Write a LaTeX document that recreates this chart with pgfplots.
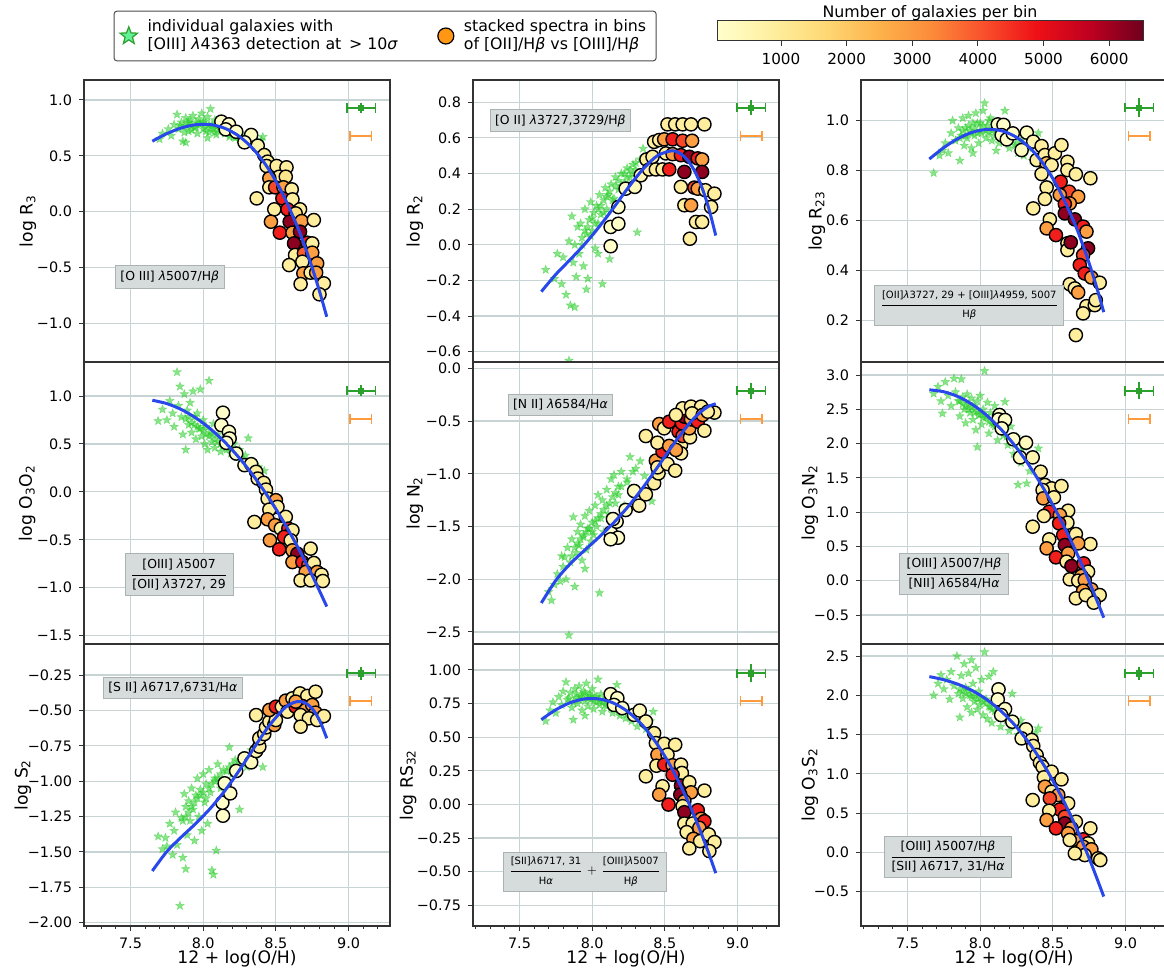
\documentclass[border=0pt]{standalone}
\usepackage{fontspec}
\setmainfont{DejaVu Sans}
\usepackage{pgfplots}
\pgfplotsset{compat=1.18}

\definecolor{gridc}{RGB}{200,212,212}
\definecolor{fitblue}{RGB}{40,72,235}
\definecolor{stargreen}{RGB}{40,205,40}
\definecolor{errgreen}{RGB}{44,160,44}
\definecolor{errorange}{RGB}{255,155,60}
\definecolor{boxfill}{RGB}{214,219,219}
\definecolor{boxdraw}{RGB}{170,178,178}
\definecolor{legstar}{RGB}{100,240,150}
\definecolor{legorange}{RGB}{255,150,20}

\pgfdeclareplotmark{fstar}{%
  \pgfpathmoveto{\pgfpointpolar{90}{\pgfplotmarksize}}%
  \pgfpathlineto{\pgfpointpolar{126}{0.42\pgfplotmarksize}}%
  \pgfpathlineto{\pgfpointpolar{162}{\pgfplotmarksize}}%
  \pgfpathlineto{\pgfpointpolar{198}{0.42\pgfplotmarksize}}%
  \pgfpathlineto{\pgfpointpolar{234}{\pgfplotmarksize}}%
  \pgfpathlineto{\pgfpointpolar{270}{0.42\pgfplotmarksize}}%
  \pgfpathlineto{\pgfpointpolar{306}{\pgfplotmarksize}}%
  \pgfpathlineto{\pgfpointpolar{342}{0.42\pgfplotmarksize}}%
  \pgfpathlineto{\pgfpointpolar{18}{\pgfplotmarksize}}%
  \pgfpathlineto{\pgfpointpolar{54}{0.42\pgfplotmarksize}}%
  \pgfpathclose
  \pgfusepathqfillstroke
}

\tikzset{anno/.style={fill=boxfill, draw=boxdraw, line width=0.5pt, inner sep=2.5pt, font=\fontsize{6.2}{7}\selectfont}}

\pgfplotsset{
  colormap={ylorrd}{rgb255=(255,255,204) rgb255=(254,240,160) rgb255=(254,217,118) rgb255=(253,180,76) rgb255=(252,140,58) rgb255=(249,80,44) rgb255=(238,16,22) rgb255=(190,0,32) rgb255=(110,0,30)},
  panel/.style={scale only axis, width=153pt, height=141pt, anchor=north west,
    xmin=7.18, xmax=9.285, xtick={7.5,8,8.5,9},
    minor xtick={7.2,7.3,7.4,7.6,7.7,7.8,7.9,8.1,8.2,8.3,8.4,8.6,8.7,8.8,8.9,9.1,9.2},
    grid=major, major grid style={gridc, line width=0.6pt},
    axis line style={black!80, line width=0.6pt},
    tick align=outside, xtick pos=bottom, ytick pos=left,
    major tick length=2.5pt, minor tick length=1.5pt,
    tick style={black!80, line width=0.5pt},
    tick label style={font=\fontsize{7.2}{8}\selectfont},
    label style={font=\fontsize{8.6}{10}\selectfont},
    clip marker paths=true,
    colormap name=ylorrd, point meta min=25, point meta max=6515},
  toprow/.style={xticklabels={}, xtick style={draw=none}, minor xtick={}},
  bottomrow/.style={xticklabels={7.5,8.0,8.5,9.0}, xlabel={12 + log(O/H)},
    xlabel style={at={(axis description cs:0.5,-0.117)}, anchor=center}},
  ylab/.style={ylabel style={at={(axis description cs:#1,0.5)}, anchor=center}},
  stars/.style={only marks, stargreen, mark=fstar, mark size=2.3pt, mark options={draw=stargreen, fill=stargreen, fill opacity=0.55, draw opacity=0.45, line width=0.2pt}},
  bins/.style={scatter, only marks, mark=*, mark size=3.3pt, scatter src=explicit,
    scatter/use mapped color={draw=black, fill=mapped color}, mark options={line width=0.7pt}},
  fit/.style={fitblue, line width=1.5pt, smooth, no marks},
  errgx/.style={only marks, errgreen, mark=square*, mark size=1.3pt,
    error bars/x dir=both, error bars/x explicit, error bars/error mark=|,
    error bars/error bar style={line width=1pt, errgreen},
    error bars/error mark options={errgreen, mark size=2.4pt, line width=0.8pt}},
  errgy/.style={only marks, errgreen, mark=square*, mark size=1.3pt,
    error bars/y dir=both, error bars/y explicit, error bars/error mark=-,
    error bars/error bar style={line width=0.8pt, errgreen},
    error bars/error mark options={errgreen, mark size=1.8pt, line width=0.8pt}},
  erro/.style={only marks, errorange, mark=*, mark size=0.3pt,
    error bars/x dir=both, error bars/x explicit, error bars/error mark=|,
    error bars/error bar style={line width=1pt, errorange},
    error bars/error mark options={errorange, mark size=2.4pt, line width=0.8pt}},
}

\begin{document}
\begin{tikzpicture}

% ---------------- colorbar ----------------
\begin{axis}[at={(358.5pt,-10.35pt)}, anchor=north west, scale only axis, width=213pt, height=10pt,
  xmin=25, xmax=6515, ymin=0, ymax=1, ytick=\empty,
  xtick={1000,2000,3000,4000,5000,6000}, xticklabels={1000,2000,3000,4000,5000,6000},
  xtick pos=bottom, tick align=outside, major tick length=2.5pt,
  axis line style={black!80, line width=0.5pt}, tick style={black!80, line width=0.5pt},
  colormap name=ylorrd, point meta min=25, point meta max=6515,
  tick label style={font=\fontsize{7.6}{8}\selectfont},
  title={Number of galaxies per bin},
  every axis title/.style={at={(0.5,1.17)}, anchor=base, font=\fontsize{7.9}{9}\selectfont},
  axis on top]
\addplot[surf, shader=interp, point meta=x, mesh/rows=2] coordinates {(25,0) (6515,0) (25,1) (6515,1)};
\end{axis}

% ---------------- (1,1) R3 ----------------
\begin{axis}[panel, toprow, at={(42pt,-40pt)}, ymin=-1.346, ymax=1.179,
  ytick={-1,-0.5,0,0.5,1}, yticklabels={−1.0,−0.5,0.0,0.5,1.0},
  ylabel={log R\textsubscript{3}}, ylab=-0.183,
  legend columns=2,
  legend style={at={(0.984,1.156)}, anchor=center, draw=black!70, line width=0.5pt, rounded corners=1.5pt,
    font=\fontsize{7.9}{9.4}\selectfont, cells={align=left, anchor=west},
    /tikz/every odd column/.append style={column sep=3pt},
    /tikz/every even column/.append style={column sep=18pt}}]
\addlegendimage{only marks, mark=fstar, mark size=4.6pt, mark options={draw=errgreen, fill=legstar, line width=0.6pt}}
\addlegendentry{individual galaxies with\\{}[OIII] \textit{λ}4363 detection at\ \,> 10\textit{σ}}
\addlegendimage{only marks, mark=*, mark size=4pt, mark options={draw=black, fill=legorange, line width=0.6pt}}
\addlegendentry{stacked spectra in bins\\of [OII]/H\textit{β} vs [OIII]/H\textit{β}}
\addplot[stars, forget plot] coordinates {
(7.70,0.65) (7.72,0.70) (7.76,0.74) (7.78,0.68) (7.80,0.78) (7.82,0.87) (7.83,0.74) (7.85,0.80) (7.86,0.63) (7.87,0.76)
(7.88,0.84) (7.89,0.79) (7.90,0.72) (7.91,0.82) (7.92,0.77) (7.93,0.86) (7.94,0.75) (7.95,0.80) (7.96,0.70) (7.97,0.83)
(7.98,0.78) (7.99,0.88) (8.00,0.74) (8.01,0.81) (8.02,0.76) (8.03,0.85) (8.04,0.71) (8.05,0.92) (8.06,0.78) (8.07,0.74)
(8.08,0.82) (8.09,0.69) (8.10,0.77) (8.12,0.73) (8.13,0.80) (8.15,0.70) (8.16,0.75) (8.18,0.67) (8.20,0.72) (8.22,0.66)
(8.24,0.70) (8.26,0.64) (8.28,0.68) (8.30,0.62) (8.33,0.66) (8.36,0.60) (8.40,0.64) (8.41,0.67) (7.88,0.62) (8.03,0.66)
(7.84,0.77) (7.87,0.71) (7.90,0.80) (7.92,0.73) (7.95,0.76) (7.97,0.79) (8.00,0.80) (8.02,0.72) (8.04,0.78) (8.06,0.75)
(8.08,0.71) (8.11,0.74) (8.14,0.76) (8.17,0.71) (8.19,0.69) (8.21,0.67) (8.23,0.68) (8.25,0.65) (8.27,0.66) (8.29,0.64)};
\addplot[bins, forget plot] table[meta=c] {
x y c
8.125 0.806 100
8.177 0.782 100
8.155 0.737 100
8.227 0.716 100
8.330 0.687 300
8.284 0.621 200
8.375 0.591 600
8.420 0.507 900
8.443 0.448 900
8.436 0.409 900
8.505 0.409 900
8.573 0.397 900
8.523 0.313 900
8.568 0.313 1200
8.455 0.299 2900
8.455 0.218 900
8.495 0.218 4200
8.552 0.218 2900
8.609 0.200 900
8.368 0.119 900
8.545 0.119 4700
8.614 0.110 900
8.489 0.021 900
8.580 0.021 4700
8.666 0.021 900
8.636 -0.015 1500
8.466 -0.090 2900
8.595 -0.090 6200
8.677 -0.084 2900
8.761 -0.075 900
8.527 -0.188 4700
8.614 -0.188 2900
8.666 -0.179 6200
8.625 -0.284 6200
8.716 -0.278 4700
8.750 -0.284 900
8.632 -0.388 900
8.693 -0.373 3900
8.750 -0.367 2900
8.591 -0.478 900
8.682 -0.448 900
8.784 -0.463 2900
8.689 -0.552 2900
8.739 -0.546 900
8.777 -0.546 2900
8.670 -0.648 900
8.830 -0.642 900
8.800 -0.740 900
};
\addplot[fit, forget plot] coordinates {(7.65,0.631) (7.75,0.699) (7.85,0.750) (7.95,0.779) (8.05,0.780) (8.15,0.746) (8.25,0.673) (8.35,0.553) (8.45,0.381) (8.55,0.152) (8.65,-0.141) (8.70,-0.313) (8.75,-0.503) (8.80,-0.712) (8.85,-0.941)};
\addplot[errgx, forget plot] coordinates {(9.087,0.931) +- (0.099,0)};
\addplot[errgy, forget plot] coordinates {(9.087,0.931) +- (0,0.012)};
\addplot[erro, forget plot] coordinates {(9.085,0.678) +- (0.074,0)};
\node[anno] at (axis cs:7.77,-0.585) {[O III] \textit{λ}5007/H\textit{β}};
\end{axis}

% ---------------- (1,2) R2 ----------------
\begin{axis}[panel, toprow, at={(236.5pt,-40pt)}, ymin=-0.658, ymax=0.925,
  ytick={-0.6,-0.4,-0.2,0,0.2,0.4,0.6,0.8}, yticklabels={−0.6,−0.4,−0.2,0.0,0.2,0.4,0.6,0.8},
  ylabel={log R\textsubscript{2}}, ylab=-0.19]
\addplot[stars] coordinates {
(7.68,-0.14) (7.74,-0.19) (7.76,-0.05) (7.79,-0.22) (7.80,-0.07) (7.82,-0.28) (7.84,-0.65) (7.84,0.02) (7.85,-0.34) (7.86,0.16)
(7.87,-0.10) (7.88,-0.35) (7.88,0.00) (7.89,-0.18) (7.90,0.10) (7.91,-0.05) (7.92,0.12) (7.93,0.04) (7.94,-0.12) (7.95,0.20)
(7.96,0.06) (7.97,-0.19) (7.98,0.14) (7.99,0.24) (8.00,0.08) (8.01,0.18) (8.02,-0.02) (8.03,0.22) (8.04,0.12) (8.05,0.28)
(8.06,0.17) (8.07,-0.22) (8.08,0.25) (8.09,0.32) (8.10,0.20) (8.11,0.28) (8.12,-0.08) (8.13,0.34) (8.15,0.26) (8.16,0.38)
(8.18,0.31) (8.20,0.40) (8.22,0.35) (8.24,0.43) (8.26,0.38) (8.28,0.45) (8.30,0.42) (8.31,0.07) (8.33,0.48) (8.35,0.54)
(8.04,-0.05) (7.96,-0.25)
(7.93,0.00) (7.95,0.08) (7.97,0.10) (7.99,0.05) (8.00,0.15) (8.02,0.12) (8.04,0.20) (8.06,0.22) (8.08,0.18) (8.10,0.27)
(8.12,0.30) (8.14,0.25) (8.16,0.33) (8.18,0.36) (8.20,0.33) (8.22,0.40) (8.24,0.38) (8.26,0.42) (8.28,0.40) (8.30,0.46)};
\addplot[bins] table[meta=c] {
x y c
8.127 -0.008 100
8.127 0.100 100
8.180 0.118 100
8.180 0.212 100
8.230 0.315 100
8.293 0.325 300
8.334 0.390 500
8.373 0.479 900
8.392 0.423 900
8.438 0.423 900
8.484 0.423 900
8.530 0.423 4700
8.426 0.578 900
8.461 0.588 900
8.518 0.676 900
8.571 0.676 900
8.622 0.676 900
8.680 0.676 900
8.772 0.676 900
8.495 0.592 2900
8.553 0.592 4700
8.622 0.584 4200
8.687 0.584 2900
8.415 0.494 900
8.507 0.513 900
8.553 0.509 2900
8.610 0.503 4700
8.668 0.494 6200
8.726 0.485 4700
8.756 0.479 2900
8.634 0.409 6200
8.756 0.409 6200
8.610 0.325 900
8.703 0.321 4200
8.726 0.315 2900
8.779 0.306 900
8.841 0.287 900
8.634 0.222 900
8.680 0.222 2900
8.818 0.212 900
8.714 0.128 900
8.756 0.128 900
8.672 0.034 900
};
\addplot[fit] coordinates {(7.65,-0.263) (7.75,-0.166) (7.85,-0.082) (7.95,0.005) (8.05,0.103) (8.15,0.211) (8.25,0.323) (8.35,0.425) (8.45,0.501) (8.55,0.528) (8.60,0.515) (8.65,0.481) (8.70,0.421) (8.75,0.332) (8.80,0.210) (8.85,0.052)};
\addplot[errgx] coordinates {(9.094,0.770) +- (0.099,0)};
\addplot[errgy] coordinates {(9.094,0.770) +- (0,0.02)};
\addplot[erro] coordinates {(9.093,0.610) +- (0.074,0)};
\node[anno] at (axis cs:7.781,0.697) {[O II] \textit{λ}3727,3729/H\textit{β}};
\end{axis}

% ---------------- (1,3) R23 ----------------
\begin{axis}[panel, toprow, at={(430.5pt,-40pt)}, ymin=0.032, ymax=1.163,
  ytick={0.2,0.4,0.6,0.8,1.0}, yticklabels={0.2,0.4,0.6,0.8,1.0},
  ylabel={log R\textsubscript{23}}, ylab=-0.144]
\addplot[stars] coordinates {
(7.68,0.79) (7.72,0.86) (7.74,0.88) (7.76,0.91) (7.78,0.87) (7.80,0.95) (7.81,1.00) (7.83,0.92) (7.85,0.97) (7.86,0.84)
(7.87,0.94) (7.88,1.01) (7.89,0.90) (7.90,0.97) (7.91,0.93) (7.92,1.02) (7.93,0.96) (7.94,0.89) (7.95,0.99) (7.96,0.94)
(7.97,1.03) (7.98,0.95) (7.99,0.91) (8.00,0.99) (8.01,0.95) (8.02,1.04) (8.03,1.07) (8.04,0.93) (8.05,0.98) (8.06,0.95)
(8.07,1.01) (8.08,0.92) (8.09,0.97) (8.10,0.94) (8.12,0.99) (8.13,0.91) (8.15,0.96) (8.17,1.04) (8.18,0.93) (8.20,0.89)
(8.22,0.95) (8.24,0.90) (8.26,0.87) (8.28,0.92) (8.30,0.86) (8.33,0.89) (8.36,0.84) (8.40,0.95) (7.95,0.87) (8.11,0.88)
(7.86,0.93) (7.88,0.96) (7.90,0.94) (7.92,0.98) (7.94,0.95) (7.96,0.97) (7.98,0.99) (8.00,0.96) (8.02,0.98) (8.04,0.96)
(8.06,1.00) (8.08,0.96) (8.10,0.98) (8.12,0.95) (8.14,0.94) (8.16,0.92) (8.19,0.94) (8.21,0.92) (8.25,0.91) (8.29,0.89)};
\addplot[bins] table[meta=c] {
x y c
8.121 0.985 100
8.160 0.983 100
8.148 0.942 100
8.183 0.925 100
8.224 0.949 100
8.285 0.882 300
8.320 0.952 300
8.365 0.916 600
8.422 0.898 900
8.388 0.842 900
8.445 0.862 900
8.514 0.869 900
8.559 0.902 900
8.457 0.829 2300
8.491 0.822 900
8.600 0.835 900
8.600 0.802 900
8.658 0.785 900
8.758 0.769 900
8.422 0.786 900
8.457 0.732 900
8.445 0.686 900
8.365 0.648 900
8.553 0.755 4700
8.612 0.715 4200
8.548 0.702 2900
8.674 0.695 2900
8.616 0.668 2900
8.582 0.666 4700
8.582 0.628 6200
8.651 0.604 6200
8.479 0.604 900
8.457 0.568 2900
8.521 0.541 4700
8.708 0.575 4700
8.731 0.555 2900
8.600 0.508 900
8.600 0.481 900
8.623 0.512 6200
8.742 0.488 6200
8.708 0.461 4200
8.685 0.421 4700
8.719 0.387 4700
8.765 0.371 2900
8.822 0.350 900
8.616 0.344 900
8.651 0.327 900
8.674 0.311 2900
8.731 0.256 900
8.788 0.260 900
8.795 0.280 900
8.708 0.227 900
8.658 0.140 900
};
\addplot[fit] coordinates {(7.65,0.846) (7.75,0.892) (7.85,0.929) (7.95,0.954) (8.05,0.965) (8.15,0.959) (8.25,0.933) (8.35,0.886) (8.45,0.814) (8.55,0.715) (8.65,0.587) (8.70,0.511) (8.75,0.427) (8.80,0.334) (8.85,0.232)};
\addplot[errgx] coordinates {(9.094,1.052) +- (0.099,0)};
\addplot[errgy] coordinates {(9.094,1.052) +- (0,0.023)};
\addplot[erro] coordinates {(9.093,0.938) +- (0.074,0)};
\node[anno, font=\fontsize{5}{5.6}\selectfont] at (axis cs:7.925,0.259) {$\displaystyle\frac{\mbox{[OII]\textit{λ}3727, 29 + [OIII]\textit{λ}4959, 5007}}{\mbox{H\textit{β}}}$};
\end{axis}

% ---------------- (2,1) O3O2 ----------------
\begin{axis}[panel, toprow, at={(42pt,-181pt)}, ymin=-1.587, ymax=1.355,
  ytick={-1.5,-1,-0.5,0,0.5,1}, yticklabels={−1.5,−1.0,−0.5,0.0,0.5,1.0},
  ylabel={log O\textsubscript{3}O\textsubscript{2}}, ylab=-0.186]
\addplot[stars] coordinates {
(7.69,0.74) (7.72,0.86) (7.75,0.75) (7.77,0.95) (7.79,0.82) (7.80,0.68) (7.82,1.25) (7.83,0.90) (7.84,1.10) (7.85,0.78)
(7.86,0.60) (7.87,1.02) (7.88,0.44) (7.89,0.85) (7.90,0.70) (7.91,0.93) (7.92,0.62) (7.93,1.05) (7.94,0.78) (7.95,0.55)
(7.96,0.82) (7.97,0.66) (7.98,1.07) (7.99,0.58) (8.00,0.75) (8.01,0.50) (8.02,0.68) (8.03,0.44) (8.04,1.16) (8.05,0.62)
(8.06,0.52) (8.07,0.71) (8.08,0.46) (8.10,0.60) (8.12,0.42) (8.13,0.55) (8.15,0.48) (8.17,0.62) (8.19,0.40) (8.21,0.50)
(8.23,0.36) (8.25,0.44) (8.27,0.30) (8.29,0.38) (8.31,0.56) (8.33,0.28) (8.35,0.20) (8.38,0.26) (8.40,0.15) (8.42,0.22)
(7.88,0.76) (7.90,0.78) (7.92,0.72) (7.94,0.70) (7.96,0.68) (7.98,0.66) (8.00,0.64) (8.02,0.60) (8.04,0.58) (8.06,0.60)
(8.08,0.55) (8.10,0.52) (8.12,0.50) (8.14,0.48) (8.16,0.44) (8.18,0.46) (8.20,0.42) (8.24,0.38) (8.28,0.34) (8.32,0.30)};
\addplot[bins] table[meta=c] {
x y c
8.136 0.826 100
8.125 0.697 100
8.177 0.627 100
8.182 0.557 100
8.159 0.512 100
8.227 0.400 200
8.284 0.279 300
8.330 0.289 500
8.364 0.209 900
8.375 0.139 900
8.416 0.094 900
8.432 0.024 900
8.443 -0.070 900
8.500 -0.087 2900
8.511 -0.157 900
8.455 -0.185 900
8.568 -0.261 900
8.443 -0.286 2900
8.352 -0.314 900
8.495 -0.348 2900
8.534 -0.383 900
8.586 -0.383 4700
8.614 -0.401 900
8.459 -0.505 2900
8.557 -0.470 4700
8.602 -0.505 900
8.523 -0.599 4700
8.614 -0.610 2900
8.648 -0.645 6200
8.739 -0.592 900
8.614 -0.732 2900
8.682 -0.732 4700
8.723 -0.767 4200
8.761 -0.742 900
8.705 -0.836 2900
8.784 -0.836 2900
8.814 -0.864 900
8.670 -0.923 900
8.739 -0.923 900
8.823 -0.930 900
};
\addplot[fit] coordinates {(7.65,0.956) (7.75,0.921) (7.85,0.859) (7.95,0.771) (8.05,0.657) (8.15,0.517) (8.25,0.351) (8.35,0.159) (8.45,-0.060) (8.55,-0.304) (8.65,-0.575) (8.75,-0.872) (8.85,-1.196)};
\addplot[errgx] coordinates {(9.087,1.056) +- (0.099,0)};
\addplot[errgy] coordinates {(9.087,1.056) +- (0,0.02)};
\addplot[erro] coordinates {(9.085,0.760) +- (0.074,0)};
\node[anno] at (axis cs:7.834,-0.861) {$\displaystyle\frac{\mbox{[OIII] \textit{λ}5007}}{\mbox{[OII] \textit{λ}3727, 29}}$};
\end{axis}

% ---------------- (2,2) N2 ----------------
\begin{axis}[panel, toprow, at={(236.5pt,-181pt)}, ymin=-2.614, ymax=0.06,
  ytick={-2.5,-2,-1.5,-1,-0.5,0}, yticklabels={−2.5,−2.0,−1.5,−1.0,−0.5,0.0},
  ylabel={log N\textsubscript{2}}, ylab=-0.19]
\addplot[stars] coordinates {
(7.70,-2.12) (7.72,-2.20) (7.74,-2.05) (7.76,-1.95) (7.78,-2.02) (7.79,-1.78) (7.80,-1.88) (7.81,-1.79) (7.82,-2.00) (7.83,-1.70)
(7.84,-2.53) (7.85,-1.84) (7.86,-1.62) (7.87,-1.41) (7.88,-2.07) (7.89,-1.75) (7.90,-1.55) (7.91,-1.68) (7.92,-1.48) (7.93,-1.82)
(7.94,-1.60) (7.95,-1.40) (7.96,-1.72) (7.97,-1.52) (7.98,-1.35) (7.99,-1.64) (8.00,-1.46) (8.01,-1.58) (8.02,-1.30) (8.03,-1.50)
(8.04,-1.20) (8.05,-2.13) (8.06,-1.42) (8.07,-1.25) (8.08,-1.55) (8.10,-1.15) (8.11,-1.38) (8.13,-1.05) (8.15,-1.01) (8.16,-1.28)
(8.18,-1.12) (8.20,-0.98) (8.22,-1.30) (8.24,-1.08) (8.26,-0.84) (8.28,-1.18) (8.30,-0.95) (8.33,-0.88) (8.36,-1.02) (8.41,-1.26)
(7.95,-1.90) (8.12,-1.62)
(7.86,-1.78) (7.88,-1.70) (7.90,-1.66) (7.92,-1.62) (7.94,-1.58) (7.96,-1.55) (7.98,-1.52) (8.00,-1.55) (8.02,-1.45) (8.04,-1.42)
(8.06,-1.38) (8.08,-1.34) (8.10,-1.30) (8.12,-1.28) (8.14,-1.22) (8.16,-1.18) (8.18,-1.20) (8.20,-1.12) (8.24,-1.05) (8.28,-0.98)};
\addplot[bins] table[meta=c] {
x y c
8.127 -1.558 100
8.177 -1.606 100
8.127 -1.621 100
8.168 -1.454 100
8.143 -1.429 100
8.230 -1.343 100
8.288 -1.163 300
8.323 -1.302 600
8.369 -1.195 900
8.426 -1.090 900
8.456 -0.996 900
8.438 -0.875 2900
8.449 -0.939 900
8.518 -0.907 900
8.571 -0.970 900
8.484 -0.790 4700
8.449 -0.705 900
8.369 -0.642 900
8.530 -0.736 2900
8.611 -0.727 900
8.611 -0.806 900
8.576 -0.774 2900
8.461 -0.528 2900
8.495 -0.569 900
8.530 -0.506 4700
8.594 -0.600 4700
8.622 -0.642 4200
8.673 -0.654 900
8.668 -0.569 2900
8.617 -0.521 4700
8.634 -0.458 6200
8.680 -0.484 2900
8.726 -0.506 4700
8.772 -0.591 900
8.622 -0.379 900
8.680 -0.363 900
8.749 -0.363 900
8.687 -0.427 900
8.760 -0.442 2900
8.841 -0.420 900
8.795 -0.411 900
8.576 -0.442 900
};
\addplot[fit] coordinates {(7.65,-2.225) (7.75,-2.010) (7.85,-1.852) (7.95,-1.722) (8.05,-1.597) (8.15,-1.461) (8.25,-1.306) (8.35,-1.129) (8.45,-0.936) (8.55,-0.737) (8.65,-0.553) (8.70,-0.474) (8.75,-0.409) (8.80,-0.361) (8.85,-0.336)};
\addplot[errgx] coordinates {(9.094,-0.212) +- (0.099,0)};
\addplot[errgy] coordinates {(9.094,-0.212) +- (0,0.04)};
\addplot[erro] coordinates {(9.093,-0.480) +- (0.074,0)};
\node[anno] at (axis cs:7.781,-0.348) {[N II] \textit{λ}6584/H\textit{α}};
\end{axis}

% ---------------- (2,3) O3N2 ----------------
\begin{axis}[panel, toprow, at={(430.5pt,-181pt)}, ymin=-0.923, ymax=3.19,
  ytick={-0.5,0,0.5,1,1.5,2,2.5,3}, yticklabels={−0.5,0.0,0.5,1.0,1.5,2.0,2.5,3.0},
  ylabel={log O\textsubscript{3}N\textsubscript{2}}, ylab=-0.167]
\addplot[stars] coordinates {
(7.68,2.73) (7.71,2.83) (7.73,2.62) (7.74,2.44) (7.76,2.90) (7.78,2.70) (7.80,2.55) (7.82,2.95) (7.83,2.75) (7.85,2.62)
(7.86,2.40) (7.87,2.94) (7.88,2.68) (7.89,2.50) (7.90,2.30) (7.91,2.72) (7.92,2.58) (7.93,2.45) (7.94,2.66) (7.95,2.35)
(7.96,2.55) (7.97,2.20) (7.98,2.62) (7.99,2.42) (8.00,2.70) (8.01,2.28) (8.02,2.50) (8.03,3.06) (8.04,2.38) (8.05,2.60)
(8.06,2.15) (8.07,2.45) (8.09,2.28) (8.10,2.55) (8.12,2.05) (8.14,2.35) (8.16,2.18) (8.17,2.61) (8.19,1.98) (8.21,2.25)
(8.23,1.85) (8.25,2.10) (8.26,1.40) (8.28,1.72) (8.30,1.95) (8.32,1.42) (8.34,1.60) (8.36,1.78) (8.40,1.93) (7.98,1.95)
(7.86,2.62) (7.88,2.58) (7.90,2.55) (7.92,2.50) (7.94,2.52) (7.96,2.45) (7.98,2.48) (8.00,2.42) (8.02,2.38) (8.04,2.40)
(8.06,2.32) (8.08,2.30) (8.10,2.25) (8.12,2.22) (8.14,2.18) (8.16,2.12) (8.18,2.10) (8.20,2.05) (8.24,1.98) (8.28,1.90)};
\addplot[bins] table[meta=c] {
x y c
8.132 2.417 100
8.126 2.353 100
8.171 2.344 100
8.148 2.222 100
8.228 2.062 100
8.315 2.013 300
8.274 1.799 300
8.361 1.799 600
8.416 1.590 900
8.445 1.396 900
8.491 1.347 900
8.559 1.381 900
8.429 1.323 900
8.434 1.201 2900
8.507 1.216 900
8.475 1.007 4700
8.605 1.021 900
8.548 0.958 2900
8.438 0.944 900
8.600 0.846 900
8.543 0.837 4700
8.361 0.788 900
8.571 0.666 4700
8.658 0.681 900
8.758 0.535 900
8.475 0.603 900
8.582 0.521 6200
8.674 0.545 2900
8.457 0.472 2900
8.521 0.341 4700
8.605 0.399 2900
8.594 0.278 900
8.628 0.214 6200
8.712 0.253 4700
8.742 0.132 900
8.696 0.069 2900
8.616 0.020 900
8.674 0.000 900
8.719 0.010 2900
8.765 -0.126 2900
8.708 -0.146 2900
8.658 -0.257 900
8.726 -0.209 900
8.822 -0.209 900
8.781 -0.320 900
};
\addplot[fit] coordinates {(7.65,2.784) (7.75,2.756) (7.85,2.683) (7.95,2.565) (8.05,2.402) (8.15,2.193) (8.25,1.939) (8.35,1.639) (8.45,1.294) (8.55,0.904) (8.65,0.468) (8.75,-0.013) (8.85,-0.539)};
\addplot[errgx] coordinates {(9.094,2.771) +- (0.099,0)};
\addplot[errgy] coordinates {(9.094,2.771) +- (0,0.07)};
\addplot[erro] coordinates {(9.093,2.358) +- (0.074,0)};
\node[anno] at (axis cs:7.82,0.103) {$\displaystyle\frac{\mbox{[OIII] \textit{λ}5007/H\textit{β}}}{\mbox{[NII] \textit{λ}6584/H\textit{α}}}$};
\end{axis}

% ---------------- (3,1) S2 ----------------
\begin{axis}[panel, bottomrow, at={(42pt,-322pt)}, ymin=-2.023, ymax=-0.031,
  ytick={-2,-1.75,-1.5,-1.25,-1,-0.75,-0.5,-0.25}, yticklabels={−2.00,−1.75,−1.50,−1.25,−1.00,−0.75,−0.50,−0.25},
  ylabel={log S\textsubscript{2}}, ylab=-0.2]
\addplot[stars] coordinates {
(7.69,-1.39) (7.72,-1.48) (7.74,-1.40) (7.75,-1.46) (7.77,-1.30) (7.79,-1.52) (7.80,-1.35) (7.81,-1.22) (7.82,-1.45) (7.84,-1.88)
(7.85,-1.26) (7.86,-1.54) (7.87,-1.09) (7.88,-1.18) (7.88,-1.62) (7.89,-1.38) (7.90,-1.14) (7.91,-1.28) (7.92,-1.05) (7.93,-1.20)
(7.94,-1.42) (7.95,-1.10) (7.96,-0.98) (7.97,-1.25) (7.98,-1.06) (7.99,-1.35) (8.00,-0.95) (8.01,-1.15) (8.02,-1.02) (8.03,-1.30)
(8.04,-0.92) (8.05,-1.08) (8.06,-1.63) (8.07,-1.66) (8.08,-0.98) (8.09,-1.49) (8.10,-0.88) (8.12,-1.05) (8.14,-0.92) (8.16,-1.12)
(8.18,-0.76) (8.20,-0.95) (8.22,-0.85) (8.25,-1.20) (8.27,-0.82) (8.30,-0.90) (8.33,-0.78) (8.36,-0.84) (8.41,-0.90) (8.38,-0.72)
(7.86,-1.28) (7.88,-1.25) (7.90,-1.22) (7.92,-1.18) (7.94,-1.15) (7.96,-1.12) (7.98,-1.10) (8.00,-1.08) (8.02,-1.12) (8.04,-1.05)
(8.06,-1.02) (8.08,-1.00) (8.10,-0.98) (8.12,-0.95) (8.14,-1.00) (8.16,-0.93) (8.18,-0.90) (8.20,-0.88) (8.24,-0.86) (8.28,-0.84)};
\addplot[bins] table[meta=c] {
x y c
8.136 -1.244 100
8.132 -1.152 100
8.148 -1.015 100
8.186 -1.086 100
8.227 -0.928 100
8.284 -0.839 200
8.330 -0.867 300
8.364 -0.787 600
8.386 -0.756 900
8.386 -0.697 900
8.420 -0.667 900
8.432 -0.620 900
8.455 -0.580 900
8.489 -0.603 2900
8.500 -0.568 900
8.364 -0.533 900
8.455 -0.497 2900
8.500 -0.474 4700
8.541 -0.474 900
8.568 -0.431 2900
8.614 -0.415 900
8.666 -0.380 900
8.716 -0.398 900
8.773 -0.368 900
8.580 -0.509 900
8.636 -0.474 4700
8.682 -0.469 4700
8.705 -0.497 2900
8.750 -0.462 2900
8.773 -0.516 2900
8.670 -0.533 900
8.727 -0.556 900
8.784 -0.568 900
8.830 -0.540 900
8.670 -0.615 900
8.636 -0.438 2900
};
\addplot[fit] coordinates {(7.65,-1.634) (7.75,-1.497) (7.85,-1.394) (7.95,-1.298) (8.05,-1.191) (8.15,-1.066) (8.25,-0.921) (8.35,-0.764) (8.45,-0.613) (8.55,-0.493) (8.60,-0.455) (8.65,-0.437) (8.70,-0.446) (8.75,-0.488) (8.80,-0.569) (8.85,-0.697)};
\addplot[errgx] coordinates {(9.087,-0.238) +- (0.099,0)};
\addplot[errgy] coordinates {(9.087,-0.238) +- (0,0.02)};
\addplot[erro] coordinates {(9.085,-0.434) +- (0.074,0)};
\node[anno] at (axis cs:7.791,-0.339) {[S II] \textit{λ}6717,6731/H\textit{α}};
\end{axis}

% ---------------- (3,2) RS32 ----------------
\begin{axis}[panel, bottomrow, at={(236.5pt,-322pt)}, ymin=-0.904, ymax=1.193,
  ytick={-0.75,-0.5,-0.25,0,0.25,0.5,0.75,1}, yticklabels={−0.75,−0.50,−0.25,0.00,0.25,0.50,0.75,1.00},
  ylabel={log RS\textsubscript{32}}, ylab=-0.212]
\addplot[stars] coordinates {
(7.68,0.62) (7.71,0.70) (7.73,0.76) (7.75,0.68) (7.77,0.80) (7.79,0.74) (7.80,0.84) (7.82,0.91) (7.83,0.78) (7.85,0.83)
(7.86,0.72) (7.87,0.63) (7.88,0.86) (7.89,0.79) (7.90,0.75) (7.91,0.88) (7.92,0.81) (7.93,0.70) (7.94,0.84) (7.95,0.77)
(7.96,0.90) (7.97,0.73) (7.98,0.82) (7.99,0.78) (8.00,0.86) (8.01,0.71) (8.02,0.80) (8.03,0.76) (8.04,0.93) (8.05,0.74)
(8.06,0.82) (8.07,0.69) (8.08,0.78) (8.10,0.73) (8.12,0.80) (8.14,0.68) (8.16,0.75) (8.17,0.89) (8.19,0.66) (8.21,0.72)
(8.23,0.64) (8.25,0.70) (8.27,0.62) (8.29,0.67) (8.31,0.58) (8.34,0.64) (8.37,0.56) (8.40,0.62) (8.42,0.69) (7.95,0.66)
(7.84,0.79) (7.87,0.76) (7.89,0.82) (7.91,0.78) (7.93,0.80) (7.95,0.83) (7.97,0.79) (7.99,0.81) (8.01,0.77) (8.03,0.80)
(8.05,0.78) (8.07,0.76) (8.09,0.74) (8.11,0.77) (8.13,0.72) (8.15,0.71) (8.18,0.70) (8.20,0.68) (8.24,0.67) (8.28,0.65)};
\addplot[bins] table[meta=c] {
x y c
8.127 0.820 100
8.173 0.790 100
8.150 0.740 100
8.207 0.716 100
8.288 0.666 200
8.327 0.698 300
8.369 0.617 600
8.426 0.530 900
8.438 0.456 900
8.495 0.451 900
8.571 0.444 900
8.449 0.370 2900
8.518 0.370 900
8.442 0.288 900
8.495 0.296 4700
8.553 0.291 2900
8.369 0.209 900
8.484 0.135 900
8.461 0.073 2900
8.611 0.296 900
8.617 0.234 900
8.553 0.221 4700
8.611 0.140 6200
8.668 0.165 900
8.680 0.090 2900
8.772 0.103 900
8.525 -0.001 4700
8.606 0.073 6200
8.634 0.024 2900
8.622 -0.013 900
8.634 -0.058 6200
8.726 -0.043 4700
8.749 -0.107 2900
8.634 -0.142 900
8.691 -0.142 900
8.772 -0.125 4700
8.650 -0.206 900
8.737 -0.174 2900
8.696 -0.256 2900
8.742 -0.273 900
8.802 -0.223 900
8.841 -0.280 900
8.668 -0.327 900
8.806 -0.347 900
};
\addplot[fit] coordinates {(7.65,0.631) (7.75,0.704) (7.85,0.757) (7.95,0.785) (8.05,0.784) (8.15,0.752) (8.25,0.686) (8.35,0.584) (8.45,0.443) (8.55,0.264) (8.65,0.045) (8.70,-0.080) (8.75,-0.214) (8.80,-0.358) (8.85,-0.511)};
\addplot[errgx] coordinates {(9.094,0.975) +- (0.099,0)};
\addplot[errgy] coordinates {(9.094,0.975) +- (0,0.04)};
\addplot[erro] coordinates {(9.093,0.770) +- (0.074,0)};
\node[anno, font=\fontsize{5}{5.6}\selectfont] at (axis cs:7.949,-0.5) {$\displaystyle\frac{\mbox{[SII]\textit{λ}6717, 31}}{\mbox{H\textit{α}}}+\frac{\mbox{[OIII]\textit{λ}5007}}{\mbox{H\textit{β}}}$};
\end{axis}

% ---------------- (3,3) O3S2 ----------------
\begin{axis}[panel, bottomrow, at={(430.5pt,-322pt)}, ymin=-0.936, ymax=2.653,
  ytick={-0.5,0,0.5,1,1.5,2,2.5}, yticklabels={−0.5,0.0,0.5,1.0,1.5,2.0,2.5},
  ylabel={log O\textsubscript{3}S\textsubscript{2}}, ylab=-0.167]
\addplot[stars] coordinates {
(7.68,2.00) (7.71,2.15) (7.73,2.26) (7.75,2.08) (7.77,2.20) (7.79,1.95) (7.80,2.30) (7.82,2.12) (7.84,2.50) (7.85,2.02)
(7.86,1.72) (7.87,2.25) (7.88,1.96) (7.89,2.40) (7.90,2.10) (7.91,1.85) (7.92,2.28) (7.93,2.00) (7.94,1.78) (7.95,2.15)
(7.96,1.92) (7.97,2.35) (7.98,1.82) (7.99,2.05) (8.00,1.88) (8.01,2.20) (8.02,1.75) (8.03,2.55) (8.04,1.95) (8.05,1.70)
(8.06,2.24) (8.07,1.85) (8.08,1.65) (8.10,1.92) (8.12,1.75) (8.14,1.60) (8.16,1.82) (8.18,1.68) (8.20,1.55) (8.22,2.02)
(8.24,1.62) (8.26,1.50) (8.28,1.68) (8.30,1.45) (8.32,1.58) (8.35,1.40) (8.38,1.52) (8.40,1.58) (7.94,2.45) (8.09,2.30)
(7.86,2.08) (7.88,2.05) (7.90,2.02) (7.92,2.06) (7.94,1.98) (7.96,2.00) (7.98,1.95) (8.00,1.97) (8.02,1.92) (8.04,1.90)
(8.06,1.86) (8.08,1.82) (8.10,1.80) (8.12,1.84) (8.14,1.76) (8.16,1.72) (8.18,1.74) (8.20,1.68) (8.24,1.64) (8.28,1.60)};
\addplot[bins] table[meta=c] {
x y c
8.126 2.076 100
8.121 1.948 100
8.171 1.825 100
8.144 1.749 100
8.221 1.664 100
8.315 1.567 300
8.285 1.452 300
8.354 1.431 600
8.365 1.355 900
8.388 1.240 900
8.411 1.142 900
8.429 1.091 900
8.491 1.028 900
8.438 0.956 900
8.559 0.930 900
8.445 0.837 2900
8.491 0.773 900
8.537 0.731 2900
8.479 0.688 4200
8.361 0.667 900
8.605 0.625 900
8.548 0.548 4700
8.475 0.531 900
8.457 0.413 2900
8.582 0.455 4200
8.658 0.391 900
8.582 0.370 6200
8.521 0.307 4700
8.628 0.307 2900
8.605 0.243 2900
8.758 0.307 900
8.708 0.167 4700
8.658 0.145 2900
8.742 0.116 900
8.616 0.158 900
8.674 0.010 900
8.708 0.073 2900
8.765 0.040 2900
8.811 -0.075 900
8.826 -0.097 900
8.719 -0.033 900
8.651 -0.012 900
};
\addplot[fit] coordinates {(7.65,2.238) (7.75,2.198) (7.85,2.139) (7.95,2.055) (8.05,1.940) (8.15,1.788) (8.25,1.596) (8.35,1.359) (8.45,1.075) (8.55,0.742) (8.65,0.359) (8.75,-0.076) (8.85,-0.561)};
\addplot[errgx] coordinates {(9.094,2.279) +- (0.099,0)};
\addplot[errgy] coordinates {(9.094,2.279) +- (0,0.04)};
\addplot[erro] coordinates {(9.093,1.927) +- (0.074,0)};
\node[anno] at (axis cs:7.779,-0.054) {$\displaystyle\frac{\mbox{[OIII] \textit{λ}5007/H\textit{β}}}{\mbox{[SII] \textit{λ}6717, 31/H\textit{α}}}$};
\end{axis}

\pgfresetboundingbox
\path[use as bounding box] (0pt,0pt) rectangle (582pt,-488pt);
\end{tikzpicture}
\end{document}
